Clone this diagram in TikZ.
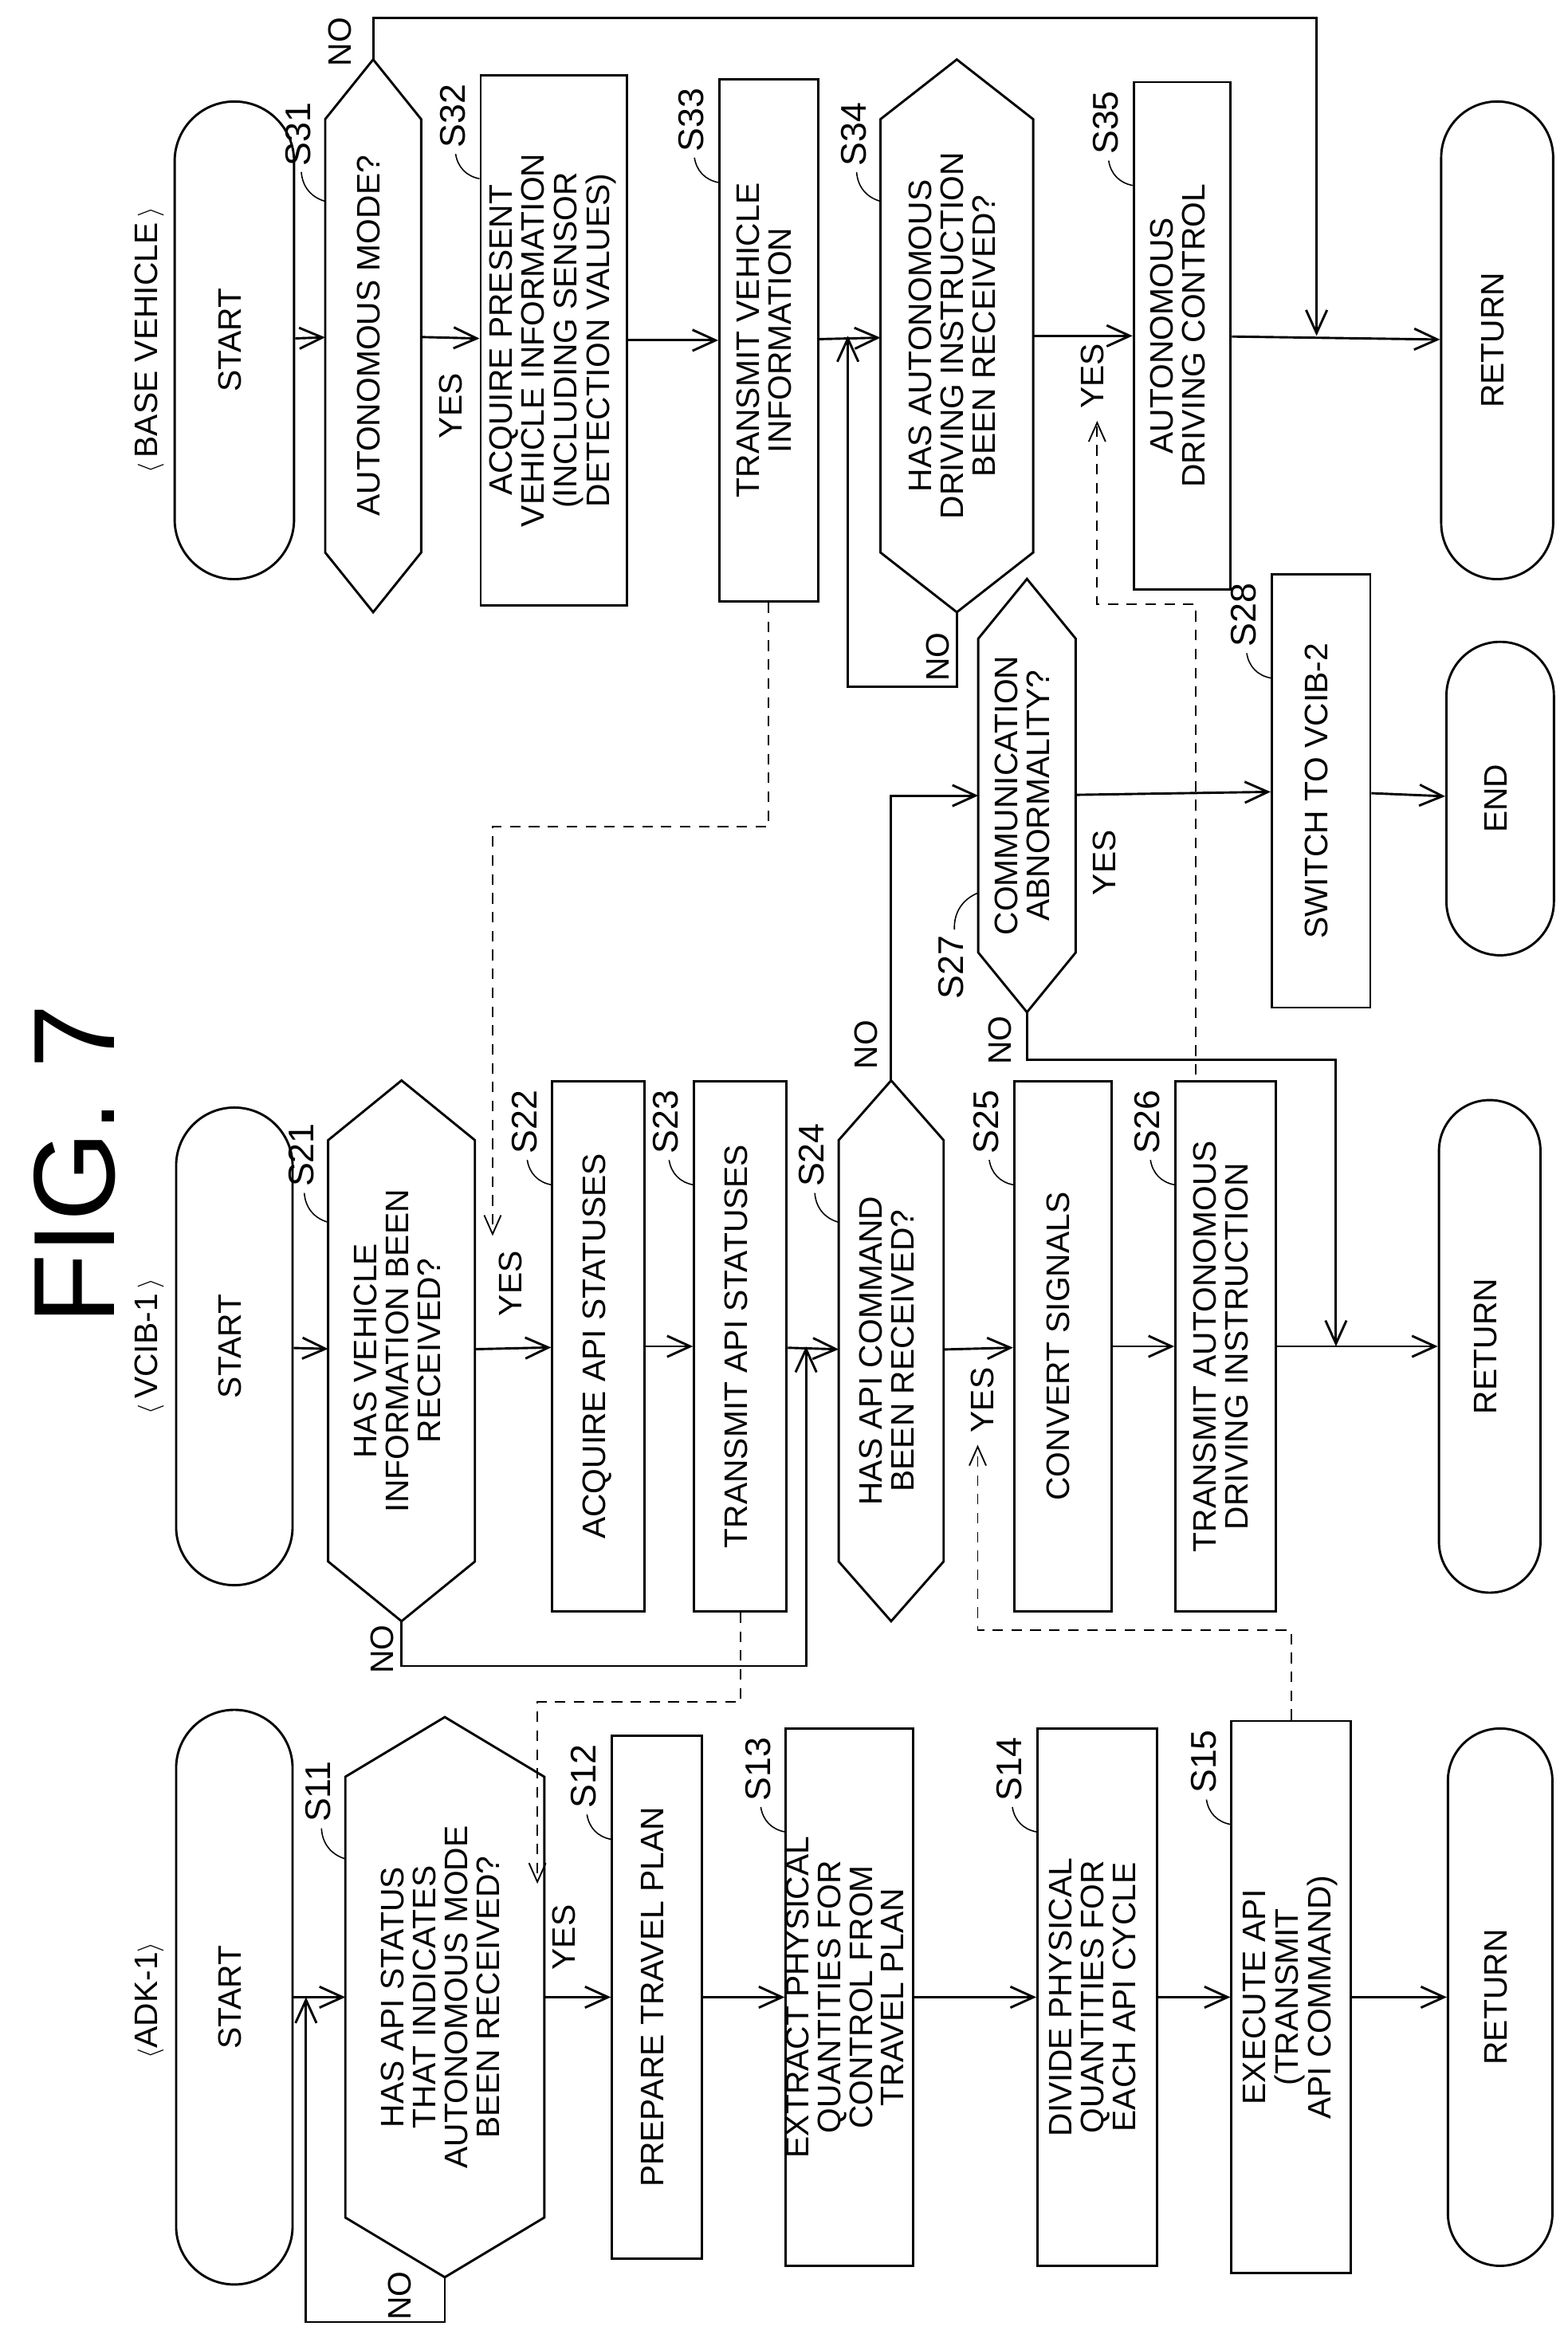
\documentclass[tikz,border=0pt]{standalone}
\usepackage{fontspec}
\setmainfont{Liberation Sans}
\usetikzlibrary{arrows.meta,calc}
\begin{document}
\begin{tikzpicture}[x=0.05cm,y=-0.05cm,
  every node/.style={font=\fontsize{31}{29}\selectfont, inner sep=0pt, align=center},
  ln/.style={line width=2.2pt},
  ar/.style={ln,-{Straight Barb[length=22pt,width=20pt,line width=2.2pt]}},
  da/.style={line width=1.4pt,dash pattern=on 10pt off 8pt,-{Straight Barb[length=18pt,width=16pt,line width=1.4pt]}},
  box/.style={draw,line width=2.2pt},
  term/.style={draw,line width=2.2pt}]
\useasboundingbox (0,0) rectangle (1050,1561);
\newcommand\mybx[6]{\node[box,minimum width=#4*0.05cm,minimum height=#5*0.05cm] (#1) at (#2,#3) {\rotatebox{90}{\begin{tabular}{@{}c@{}}#6\end{tabular}}};}
\newcommand\mytm[6]{\node[term,rounded corners=#4*0.025cm,minimum width=#4*0.05cm,minimum height=#5*0.05cm] (#1) at (#2,#3) {\rotatebox{90}{\begin{tabular}{@{}c@{}}#6\end{tabular}}};}
\newcommand\myhx[6]{\node[minimum width=#4*0.05cm,minimum height=#5*0.05cm] (#1) at (#2,#3) {\rotatebox{90}{\begin{tabular}{@{}c@{}}#6\end{tabular}}};
 \draw[ln] (#1.north) -- ($(#1.north east)+(0,40)$) -- ($(#1.south east)+(0,-40)$) -- (#1.south) -- ($(#1.south west)+(0,-40)$) -- ($(#1.north west)+(0,40)$) -- cycle;}
\newcommand\myrt[3]{\node at (#1,#2) {\rotatebox{90}{#3}};}
\newcommand\mysl[4]{\node (L#1) at ($(#2.north west)+(-18,#3)$) {\rotatebox{90}{\fontsize{34}{34}\selectfont #1}};
 \draw[line width=1.2pt] ($(L#1.south)+(2,4)$) to[bend right=35] ($(#2.north west)+(0,#4)$);}

\myrt{50}{780}{\fontsize{110}{110}\selectfont FIG. 7}
\myrt{100}{1340}{\ensuremath{\langle}ADK-1\ensuremath{\rangle}}
\myrt{100}{902}{\ensuremath{\langle}\,VCIB-1\,\ensuremath{\rangle}}
\myrt{100}{228}{\ensuremath{\langle}\,BASE VEHICLE\,\ensuremath{\rangle}}

% ADK
\mytm{st1}{157}{1338}{78}{385}{START}
\myhx{s11}{298}{1338}{133}{375}{HAS API STATUS\\THAT INDICATES\\AUTONOMOUS MODE\\BEEN RECEIVED?}
\mybx{s12}{440}{1338}{60}{350}{PREPARE TRAVEL PLAN}
\mybx{s13}{569}{1338}{82}{360}{EXTRACT PHYSICAL\\QUANTITIES FOR\\CONTROL FROM\\TRAVEL PLAN}
\mybx{s14}{735}{1338}{80}{360}{DIVIDE PHYSICAL\\QUANTITIES FOR\\EACH API CYCLE}
\mybx{s15}{865}{1338}{80}{370}{EXECUTE API\\(TRANSMIT\\API COMMAND)}
\mytm{rt1}{1005}{1338}{70}{360}{RETURN}
% VCIB
\mytm{st2}{157}{902}{78}{320}{START}
\myhx{s21}{269}{905}{98}{362}{HAS VEHICLE\\INFORMATION BEEN\\RECEIVED?}
\mybx{s22}{401}{902}{62}{355}{ACQUIRE API STATUSES}
\mybx{s23}{496}{902}{62}{355}{TRANSMIT API STATUSES}
\myhx{s24}{597}{905}{70}{362}{HAS API COMMAND\\BEEN RECEIVED?}
\mybx{s25}{712}{902}{65}{355}{CONVERT SIGNALS}
\mybx{s26}{821}{902}{67}{355}{TRANSMIT AUTONOMOUS\\DRIVING INSTRUCTION}
\mytm{rt2}{998}{902}{68}{330}{RETURN}
% middle
\myhx{s27}{688}{533}{65}{290}{COMMUNICATION\\ABNORMALITY?}
\mybx{s28}{885}{530}{66}{290}{SWITCH TO VCIB-2}
\mytm{en}{1005}{535}{72}{210}{END}
% BASE
\mytm{st3}{157}{228}{80}{320}{START}
\myhx{s31}{250}{225}{64}{370}{AUTONOMOUS MODE?}
\mybx{s32}{371}{228}{98}{355}{ACQUIRE PRESENT\\VEHICLE INFORMATION\\(INCLUDING SENSOR\\DETECTION VALUES)}
\mybx{s33}{515}{228}{66}{350}{TRANSMIT VEHICLE\\INFORMATION}
\myhx{s34}{641}{225}{102}{370}{HAS AUTONOMOUS\\DRIVING INSTRUCTION\\BEEN RECEIVED?}
\mybx{s35}{792}{225}{65}{340}{AUTONOMOUS\\DRIVING CONTROL}
\mytm{rt3}{1003}{228}{75}{320}{RETURN}

% step labels
\mysl{S11}{s11}{50}{95}\mysl{S12}{s12}{28}{70}\mysl{S13}{s13}{28}{70}\mysl{S14}{s14}{28}{70}\mysl{S15}{s15}{28}{70}
\mysl{S21}{s21}{50}{95}\mysl{S22}{s22}{28}{70}\mysl{S23}{s23}{28}{70}\mysl{S24}{s24}{50}{95}\mysl{S25}{s25}{28}{70}\mysl{S26}{s26}{28}{70}
\mysl{S28}{s28}{28}{70}
\mysl{S31}{s31}{50}{95}\mysl{S32}{s32}{28}{70}\mysl{S33}{s33}{28}{70}\mysl{S34}{s34}{50}{95}\mysl{S35}{s35}{28}{70}
\node (LS27) at ($(s27.south west)+(-18,-30)$) {\rotatebox{90}{\fontsize{34}{34}\selectfont S27}};
\draw[line width=1.2pt] ($(LS27.north)+(2,-4)$) to[bend left=35] ($(s27.south west)+(0,-80)$);

% coordinates
\coordinate (j1) at (205,1338);
\coordinate (j2) at (540,902);
\coordinate (j3) at (568,225);
\coordinate (j4) at (895,902);
\coordinate (j5) at (882,225);
\coordinate (d1) at (330,828);
\coordinate (d2) at (360,1262);
\coordinate (d3) at (655,968);
\coordinate (d4) at (735,282);
\coordinate (d4s) at (801,720);

% ADK connectors
\draw[ar] (st1) -- (s11);
\draw[ar] (s11.south) -- ++(0,30) -| (j1);
\draw[ar] (s11) -- (s12);
\draw[ar] (s12) -- (s13);
\draw[ar] (s13) -- (s14);
\draw[ar] (s14) -- (s15);
\draw[ar] (s15) -- (rt1);
\myrt{268}{1538}{NO}
\myrt{378}{1298}{YES}
% VCIB connectors
\draw[ar] (st2) -- (s21);
\draw[ar] (s21) -- (s22);
\draw[ar] (s22) -- (s23);
\draw[ar] (s23) -- (s24);
\draw[ar] (s21.south) -- ++(0,30) -| (j2);
\draw[ar] (s24) -- (s25);
\draw[ar] (s25) -- (s26);
\draw[ar] (s26) -- (rt2);
\draw[ar] (s24.north) |- (s27.west);
\draw[ar] (s27.south) -- ++(0,32) -| (j4);
\draw[ar] (s27) -- (s28);
\draw[ar] (s28) -- (en);
\myrt{256}{1105}{NO}
\myrt{342}{860}{YES}
\myrt{658}{938}{YES}
\myrt{580}{700}{NO}
\myrt{670}{697}{NO}
\myrt{740}{578}{YES}
% BASE connectors
\draw[ar] (st3) -- (s31);
\draw[ar] (s31) -- (s32);
\draw[ar] (s32) -- (s33);
\draw[ar] (s33) -- (s34);
\draw[ar] (s34) -- (s35);
\draw[ar] (s35) -- (rt3);
\draw[ar] (s31.north) -- ++(0,-28) -| (j5);
\draw[ar] (s34.south) -- ++(0,50) -| (j3);
\myrt{228}{28}{NO}
\myrt{302}{272}{YES}
\myrt{628}{440}{NO}
\myrt{732}{252}{YES}
% dashed communication
\draw[da] (s33.south) -- ++(0,150) -| (d1);
\draw[da] (s23.south) -- ++(0,60) -| (d2);
\draw[da] (s15.north) -- ++(0,-60) -| (d3);
\draw[da] (d4s) -- (801,405) -| (d4);
\end{tikzpicture}
\end{document}
